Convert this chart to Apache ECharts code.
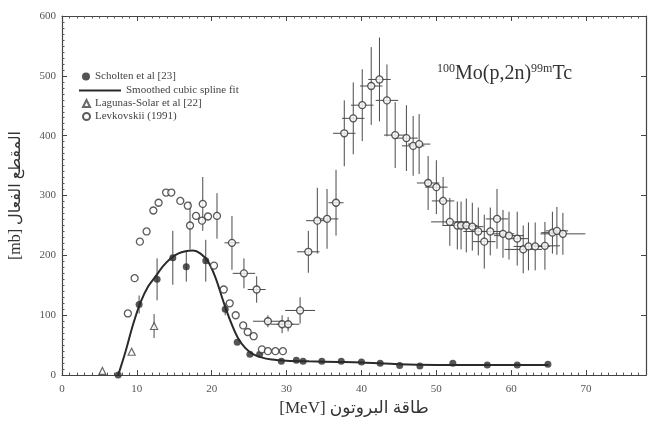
<!DOCTYPE html>
<html>
<head>
<meta charset="utf-8">
<script src="https://cdn.jsdelivr.net/npm/echarts@6/dist/echarts.min.js"></script>
<style>
  html, body { margin: 0; padding: 0; background: #fff; }
  #chart { width: 651px; height: 422px; }
</style>
</head>
<body>
<div id="chart"></div>
<script>
// Scholten et al [23] (filled circles)
const scholtenE   = [7.5, 10.3, 12.7, 14.8, 16.6, 19.2, 21.8, 23.4, 25.1, 26.4, 29.3, 31.3, 32.2, 34.7, 37.3, 40, 42.5, 45.1, 47.8, 52.2, 56.8, 60.8, 64.9];
const scholtenXS  = [0, 118, 160, 196, 181, 191, 110, 55, 35, 35, 23, 25, 23, 23, 23, 22, 20, 16, 15, 20, 17, 17, 18];
const scholtenErr = [0, 15, 35, 45, 25, 35, 10, 0, 0, 0, 0, 0, 0, 0, 0, 0, 0, 0, 0, 0, 0, 0, 0];

// smoothed cubic spline fit
const splineE  = [7.5, 8.5, 9.5, 10.5, 11.5, 12.5, 13.5, 14.5, 15.5, 16.5, 17.5, 18.5, 19.5, 20.5, 21.5, 22.5, 23.5, 24.5, 25.5, 26.5, 28, 30, 33, 37, 40, 45, 50, 55, 60, 65];
const splineXS = [0, 40, 85, 122, 148, 165, 182, 195, 203, 207, 208, 203, 190, 163, 125, 90, 62, 45, 35, 30, 26, 24, 23, 22, 21, 18, 17, 17, 17, 17];

// Lagunas-Solar et al [22] (open triangles)
const lagunasE   = [5.4, 9.3, 12.3];
const lagunasXS  = [7, 39, 82];
const lagunasErr = [0, 0, 20];

// Levkovskii (1991) (open circles)
const levE = [8.8, 9.7, 10.4, 11.3, 12.2, 12.9, 13.9, 14.6, 15.8, 16.8, 17.1, 17.9, 18.8, 18.7, 19.5, 20.3, 20.7,
  21.6, 22.4, 23.2, 24.2, 24.8, 25.6, 26.7, 27.5, 28.5, 29.5,
  22.7, 24.3, 26, 27.5, 29.4, 30.2, 31.8, 32.9, 34.1, 35.4, 36.6,
  37.7, 38.9, 40.1, 41.3, 42.4, 43.4, 44.5, 46, 46.9, 47.7, 48.9, 50, 50.9, 51.8, 52.8, 53.3, 54, 54.8, 55.6, 56.4,
  57.2, 58.1, 58.9, 59.7, 60.8, 61.6, 62.3, 63.2, 64.5, 65.5, 66.1, 66.9];
const levXS = [103, 162, 223, 240, 275, 288, 305, 305, 291, 283, 250, 266, 286, 258, 265, 183, 266,
  143, 120, 100, 83, 72, 65, 43, 40, 40, 40,
  221, 170, 143, 90, 85, 85, 108, 206, 258, 261, 288,
  404, 429, 451, 483, 494, 459, 401, 396, 383, 386, 321, 314, 291, 256, 250, 250, 250, 248, 240, 223,
  240, 261, 236, 233, 228, 210, 215, 215, 216, 238, 241, 236];
const levErrE = [0, 0, 0, 0, 0, 0, 0, 0, 0, 0, 0, 0, 0, 0, 0, 0, 0,
  0, 0, 0, 0, 0, 0, 0, 0, 0, 0,
  1, 1.5, 1.2, 2, 1.5, 1.5, 2, 1.5, 1.5, 1.5, 1,
  1.5, 1.5, 1.5, 1.5, 1.5, 1.5, 1.5, 1.5, 1.5, 1.5, 1.5, 1.5, 1.5, 2.5, 2, 1.5, 1.5, 1.5, 2, 1.5,
  2, 1.5, 1.5, 2, 1.5, 2.5, 2, 2, 2, 1.5, 1.5, 3];
const levErrXS = [0, 0, 0, 0, 0, 0, 0, 0, 0, 0, 40, 0, 45, 0, 0, 0, 38,
  0, 0, 0, 0, 0, 0, 0, 0, 0, 0,
  45, 25, 22, 10, 15, 12, 22, 35, 55, 50, 55,
  55, 60, 60, 65, 70, 60, 55, 55, 50, 50, 45, 45, 40, 40, 40, 40, 45, 40, 40, 45,
  40, 50, 40, 40, 45, 40, 40, 40, 40, 35, 40, 35];

const xTicks = [0, 10, 20, 30, 40, 50, 60, 70];
const yTicks = [0, 100, 200, 300, 400, 500, 600];

const serif = '"Liberation Serif", "DejaVu Serif", "DejaVu Sans", serif';
const ink = '#2a2a2a';

function pairs(xs, ys) {
    return xs.map((x, i) => [x, ys[i]]);
}

function errRows(xs, ys, ex, ey) {
    return xs.map((x, i) => [x, ys[i], ex ? ex[i] : 0, ey[i]]);
}

function renderErr(params, api) {
    const x = api.value(0), y = api.value(1), ex = api.value(2), ey = api.value(3);
    const children = [];
    const style = { stroke: '#4a4a4a', lineWidth: 1 };
    if (ey > 0) {
        const a = api.coord([x, y - ey]), b = api.coord([x, y + ey]);
        children.push({ type: 'line', shape: { x1: a[0], y1: a[1], x2: b[0], y2: b[1] }, style: style });
    }
    if (ex > 0) {
        const a = api.coord([x - ex, y]), b = api.coord([x + ex, y]);
        children.push({ type: 'line', shape: { x1: a[0], y1: a[1], x2: b[0], y2: b[1] }, style: style });
    }
    return { type: 'group', children: children };
}

const chart = echarts.init(document.getElementById('chart'), null, { renderer: 'canvas' });

const legendBase = {
    orient: 'vertical',
    itemWidth: 8,
    itemHeight: 8,
    selectedMode: false,
    textStyle: { fontFamily: serif, fontSize: 11, color: '#444' }
};

const axisCommon = {
    type: 'value',
    axisLine: { show: true, onZero: false, lineStyle: { color: '#444', width: 1.2 } },
    axisTick: { show: true, inside: true, length: 5, lineStyle: { color: '#444' } },
    minorTick: { show: true, splitNumber: 10, length: 2.5, lineStyle: { color: '#555' } },
    splitLine: { show: false }
};

const option = {
    backgroundColor: '#fff',
    animation: false,
    grid: { left: 62, right: 5, top: 16, bottom: 45 },
    title: {
        text: '{sup|100}Mo(p,2n){sup|99m}Tc',
        left: 432,
        top: 58,
        textStyle: {
            fontFamily: serif, fontSize: 20, fontWeight: 'normal', color: '#333',
            rich: {
                sup: { fontFamily: serif, fontSize: 12, color: '#333', verticalAlign: 'top', padding: [0, 0, 9, 0] }
            }
        }
    },
    legend: [
        Object.assign({}, legendBase, { left: 77, top: 66, data: [{ name: 'Scholten et al [23]', icon: 'circle' }] }),
        Object.assign({}, legendBase, {
            left: 74, top: 80, itemWidth: 42, itemHeight: 2,
            data: [{ name: 'Smoothed cubic spline fit', icon: 'rect' }]
        }),
        Object.assign({}, legendBase, { left: 77, top: 93, itemWidth: 7, itemHeight: 7, data: ['Lagunas-Solar et al [22]'] }),
        Object.assign({}, legendBase, { left: 77, top: 106, itemWidth: 7, itemHeight: 7, data: ['Levkovskii (1991)'] })
    ],
    xAxis: [
        Object.assign({}, axisCommon, {
            min: 0, max: 78, interval: 10,
            name: '[MeV] طاقة البروتون',
            nameLocation: 'middle',
            nameGap: 16,
            nameTextStyle: { fontFamily: serif, fontSize: 17, color: '#333' },
            axisLabel: {
                margin: 9, fontFamily: serif, fontSize: 11, color: '#555',
                formatter: v => xTicks.indexOf(v) >= 0 ? String(v) : ''
            }
        }),
        Object.assign({}, axisCommon, {
            position: 'top', min: 0, max: 78, interval: 10,
            axisLabel: { show: false }
        })
    ],
    yAxis: [
        Object.assign({}, axisCommon, {
            min: 0, max: 600, interval: 100,
            name: '[mb] المقطع الفعال',
            nameLocation: 'middle',
            nameGap: 38,
            nameTextStyle: { fontFamily: serif, fontSize: 16, color: '#333' },
            axisLabel: {
                margin: 6, fontFamily: serif, fontSize: 11, color: '#555',
                formatter: v => yTicks.indexOf(v) >= 0 ? String(v) : ''
            }
        }),
        Object.assign({}, axisCommon, {
            position: 'right', min: 0, max: 600, interval: 100,
            minorTick: { show: false },
            axisLabel: { show: false }
        })
    ],
    series: [
        {
            name: 'lev-err',
            type: 'custom',
            renderItem: renderErr,
            data: errRows(levE, levXS, levErrE, levErrXS),
            encode: { x: 0, y: 1 },
            silent: true,
            z: 1
        },
        {
            name: 'sch-err',
            type: 'custom',
            renderItem: renderErr,
            data: errRows(scholtenE, scholtenXS, null, scholtenErr),
            encode: { x: 0, y: 1 },
            silent: true,
            z: 1
        },
        {
            name: 'lag-err',
            type: 'custom',
            renderItem: renderErr,
            data: errRows(lagunasE, lagunasXS, null, lagunasErr),
            encode: { x: 0, y: 1 },
            silent: true,
            z: 1
        },
        {
            name: 'Smoothed cubic spline fit',
            type: 'line',
            data: pairs(splineE, splineXS),
            smooth: 0.35,
            symbol: 'none',
            lineStyle: { color: ink, width: 2 },
            itemStyle: { color: ink },
            z: 3
        },
        {
            name: 'Scholten et al [23]',
            type: 'scatter',
            data: pairs(scholtenE, scholtenXS),
            symbol: 'circle',
            symbolSize: 7,
            itemStyle: { color: ink },
            z: 4
        },
        {
            name: 'Lagunas-Solar et al [22]',
            type: 'scatter',
            data: pairs(lagunasE, lagunasXS),
            symbol: 'triangle',
            symbolSize: 7,
            itemStyle: { color: '#fff', borderColor: '#444', borderWidth: 1.2 },
            z: 4
        },
        {
            name: 'Levkovskii (1991)',
            type: 'scatter',
            data: pairs(levE, levXS),
            symbol: 'circle',
            symbolSize: 7,
            itemStyle: { color: '#fff', borderColor: '#333', borderWidth: 1.3 },
            z: 4
        }
    ]
};

chart.setOption(option);
</script>
</body>
</html>
